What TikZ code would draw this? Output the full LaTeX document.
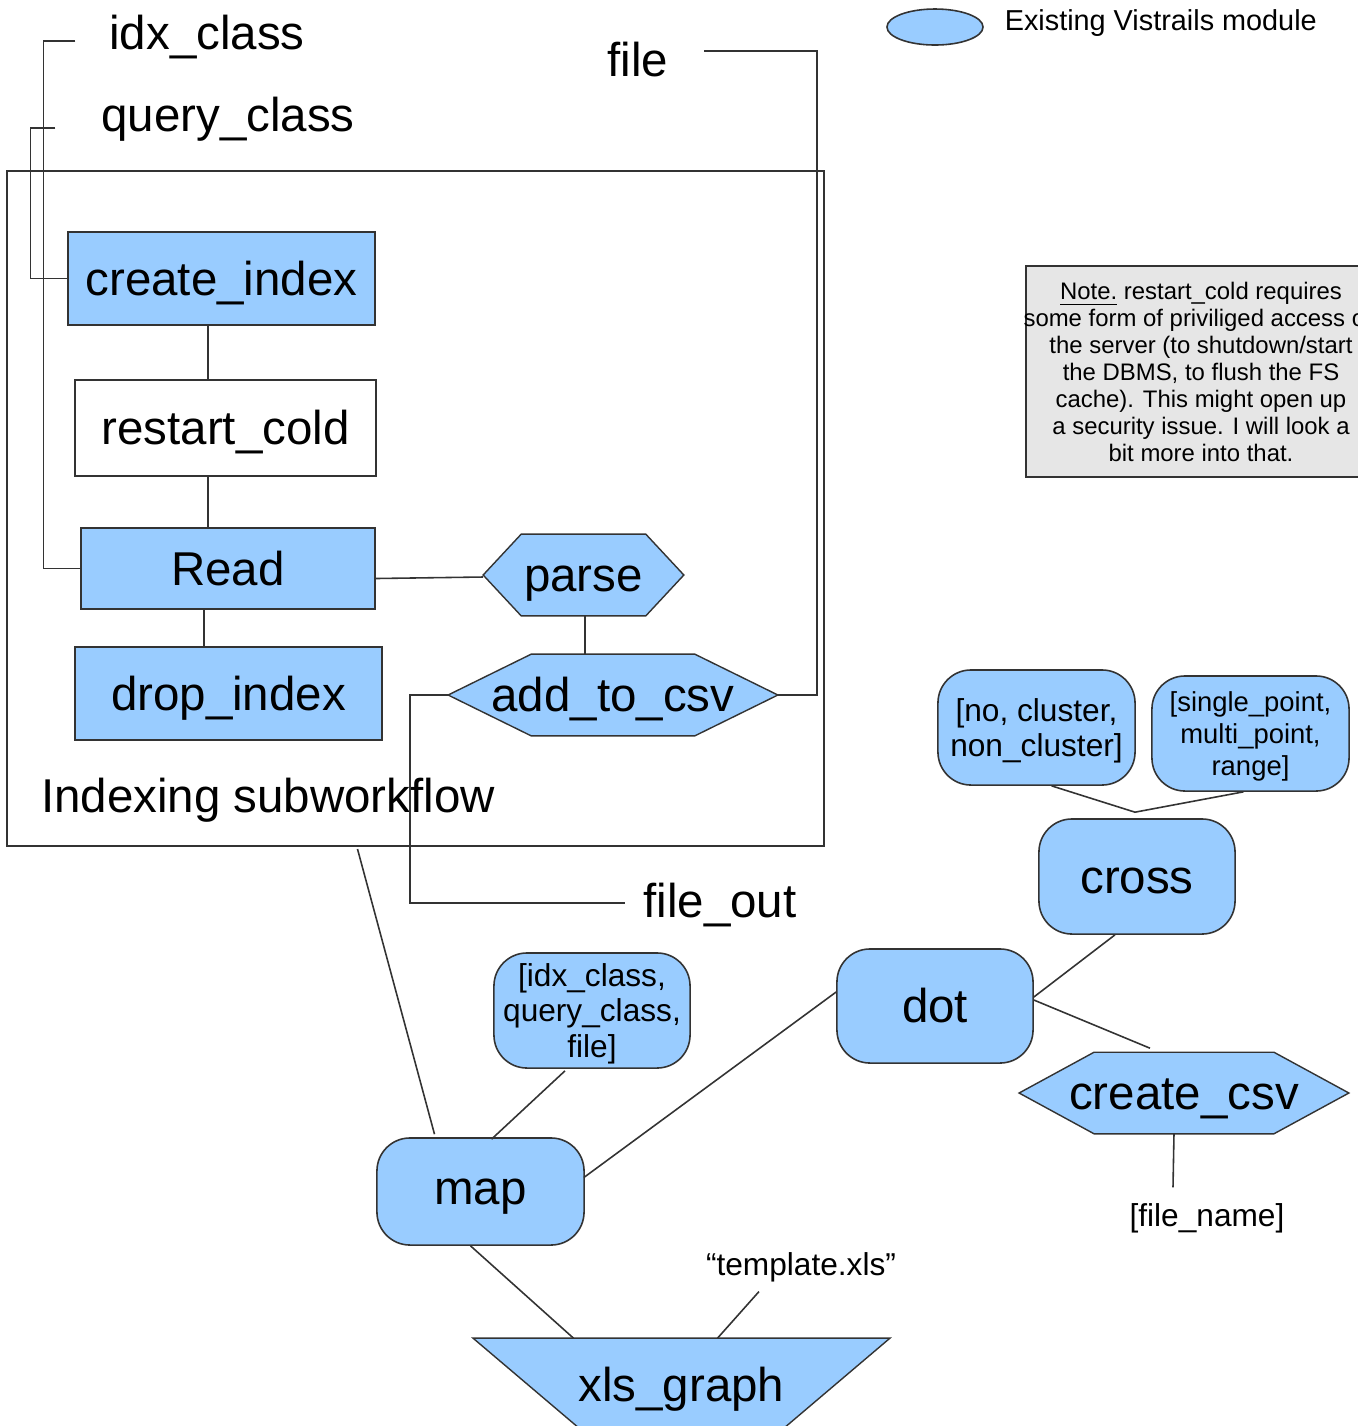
\documentclass[tikz,border=0pt]{standalone}
\usepackage{fontspec}
\setmainfont{Liberation Sans}
\usetikzlibrary{shapes.geometric,calc,backgrounds}

\definecolor{modblue}{RGB}{153,204,255}
\definecolor{notegray}{RGB}{230,230,230}

\tikzset{
  bigtxt/.style={font=\fontsize{13.5}{16}\selectfont},
  smalltxt/.style={font=\fontsize{9}{10.2}\selectfont},
  fixtxt/.style={text height=12.5pt, text depth=2.9pt},
  module/.style={draw=black!80, fill=modblue, bigtxt, inner sep=0pt},
  modround/.style={module, rounded corners=0.33cm},
  lbl/.style={inner sep=0pt},
  wire/.style={black!80, line width=0.45pt}
}

\begin{document}
\begin{tikzpicture}[x=0.01cm, y=-0.01cm, line width=0.45pt]
\useasboundingbox (0,0) rectangle (1358,1426);

% indexing subworkflow
\node[draw=black!80, minimum width=8.17cm, minimum height=6.75cm] (sub) at (415.5,508.5) {};
\node[lbl, bigtxt] (sublbl) at (268,800) {Indexing subworkflow};

\node[module, fixtxt, minimum width=3.07cm, minimum height=0.93cm] (cidx) at (221.5,278.5) {create\_index};
\node[module, fixtxt, fill=white, minimum width=3.01cm, minimum height=0.96cm] (rcold) at (225.5,428) {restart\_cold};
\node[module, fixtxt, minimum width=2.94cm, minimum height=0.81cm] (read) at (228,568.5) {Read};
\node[module, fixtxt, minimum width=3.07cm, minimum height=0.93cm] (didx) at (228.5,693.5) {drop\_index};
\node[lbl, bigtxt, fixtxt, minimum width=1.99cm, minimum height=0.8cm] (parse) at (583.5,575) {parse};
\node[lbl, bigtxt, fixtxt, minimum width=3.28cm, minimum height=0.8cm] (add) at (613,695) {add\_to\_csv};

\draw[wire] ($(cidx.south)+(-13.5,0)$) -- ($(rcold.north)+(-17.5,0)$);
\draw[wire] ($(rcold.south)+(-17.5,0)$) -- ($(read.north)+(-20,0)$);
\draw[wire] ($(read.south)+(-24,0)$) -- ($(didx.north)+(-24.5,0)$);
\draw[wire] ($(read.east)+(0,10)$) -- ($(parse.west)+(0,2)$);
\draw[wire] ($(parse.south)+(1.5,0)$) -- ($(add.north)+(-28,0)$);

% inputs and outputs
\node[lbl, bigtxt, outer xsep=0.34cm] (idx) at (207,37) {idx\_class};
\node[lbl, bigtxt, outer xsep=0.46cm] (query) at (228,119) {query\_class};
\node[lbl, bigtxt, outer xsep=0.355cm] (file) at (638,60) {file};
\node[lbl, bigtxt, outer xsep=0.18cm] (fout) at (720,905) {file\_out};

\draw[wire] ($(idx.west)+(0,4)$) -- ++(-32,0) |- (read.west);
\draw[wire] ($(query.west)+(0,9)$) -- ++(-25,0) |- (cidx.west);
\draw[wire] (add.east) -- ++(39,0) |- ($(file.east)+(0,-9)$);
\draw[wire] (add.west) -- ++(-38,0) |- ($(fout.west)+(0,-2)$);

% legend and note
\node[draw=black!80, fill=modblue, ellipse, minimum width=0.96cm, minimum height=0.36cm] (leg) at (935,27) {};
\node[lbl, anchor=west, font=\fontsize{8.2}{10}\selectfont] (legtxt) at (1004,23) {Existing Vistrails module};

\node[draw=black!80, fill=notegray, minimum width=3.5cm, minimum height=2.11cm] (notebox) at (1201,371.5) {};
\node[lbl, align=center, font=\fontsize{6.8}{7.7}\selectfont] (note) at (1201,372) {\underline{Note.} restart\_cold requires\\some form of priviliged access on\\the server (to shutdown/start\\the DBMS, to flush the FS\\cache). This might open up\\a security issue. I will look a\\bit more into that.};

% outer workflow
\node[modround, smalltxt, align=center, text depth=0pt, minimum width=1.97cm, minimum height=1.15cm] (nocl) at (1036.5,727.5) {[no, cluster,\\non\_cluster]};
\node[modround, font=\fontsize{7.8}{9.1}\selectfont, align=center, text depth=0pt, minimum width=1.97cm, minimum height=1.15cm] (sp) at (1250.5,733.5) {[single\_point,\\multi\_point,\\range]};
\node[modround, fixtxt, minimum width=1.96cm, minimum height=1.15cm] (cross) at (1137,876.5) {cross};
\node[modround, fixtxt, minimum width=1.96cm, minimum height=1.14cm] (dot) at (935,1006) {dot};
\node[modround, smalltxt, align=center, text depth=0pt, minimum width=1.96cm, minimum height=1.15cm] (lst) at (592,1010.5) {[idx\_class,\\query\_class,\\file]};
\node[modround, text height=10.5pt, text depth=2.9pt, minimum width=2.07cm, minimum height=1.07cm] (map) at (480.5,1191.5) {map};
\node[lbl, bigtxt, fixtxt, minimum width=3.28cm, minimum height=0.8cm] (ccsv) at (1184,1093) {create\_csv};
\node[lbl, smalltxt] (fname) at (1207,1218) {[file\_name]};
\node[lbl, bigtxt, fixtxt, minimum width=4.15cm, minimum height=0.92cm] (xls) at (681.5,1385) {xls\_graph};
\node[lbl, smalltxt] (tmpl) at (801,1267) {“template.xls”};

\draw[wire] ($(nocl.south)+(15,0)$) -- ($(cross.north)+(-2,-6)$) -- ($(sp.south)+(-7,0)$);
\draw[wire] ($(cross.south)+(-22,0)$) -- ($(dot.east)+(0,-9)$);
\draw[wire] ($(dot.east)+(0,-6)$) -- ($(ccsv.north)+(-34,-4)$);
\draw[wire] ($(ccsv.south)+(-10,0)$) -- ($(fname.north)+(-34,-15)$);
\draw[wire] ($(dot.west)+(0,-14)$) -- ($(map.east)+(-1,-14)$);
\draw[wire] ($(lst.south)+(-27,2)$) -- ($(map.north)+(11,2)$);
\draw[wire] ($(sub.south)+(-58,2)$) -- ($(map.north)+(-46,-3)$);
\draw[wire] ($(map.south)+(-10,0)$) -- ($(xls.north)+(-108,0)$);
\draw[wire] ($(tmpl.south)+(-42,9)$) -- ($(xls.north)+(36,0)$);

% hexagons and trapezium behind the texts
\begin{scope}[on background layer]
\draw[draw=black!80, fill=modblue] (parse.west) -- ($(parse.north west)+(38,0)$) -- ($(parse.north east)+(-38,0)$) -- (parse.east) -- ($(parse.south east)+(-38,0)$) -- ($(parse.south west)+(38,0)$) -- cycle;
\draw[draw=black!80, fill=modblue] (add.west) -- ($(add.north west)+(83,0)$) -- ($(add.north east)+(-83,0)$) -- (add.east) -- ($(add.south east)+(-83,0)$) -- ($(add.south west)+(83,0)$) -- cycle;
\draw[draw=black!80, fill=modblue] (ccsv.west) -- ($(ccsv.north west)+(75,0)$) -- ($(ccsv.north east)+(-75,0)$) -- (ccsv.east) -- ($(ccsv.south east)+(-75,0)$) -- ($(ccsv.south west)+(75,0)$) -- cycle;
\draw[draw=black!80, fill=modblue] (xls.north west) -- (xls.north east) -- ($(xls.north east)+(-119,101)$) -- ($(xls.north west)+(119,101)$) -- cycle;
\end{scope}

\end{tikzpicture}
\end{document}
